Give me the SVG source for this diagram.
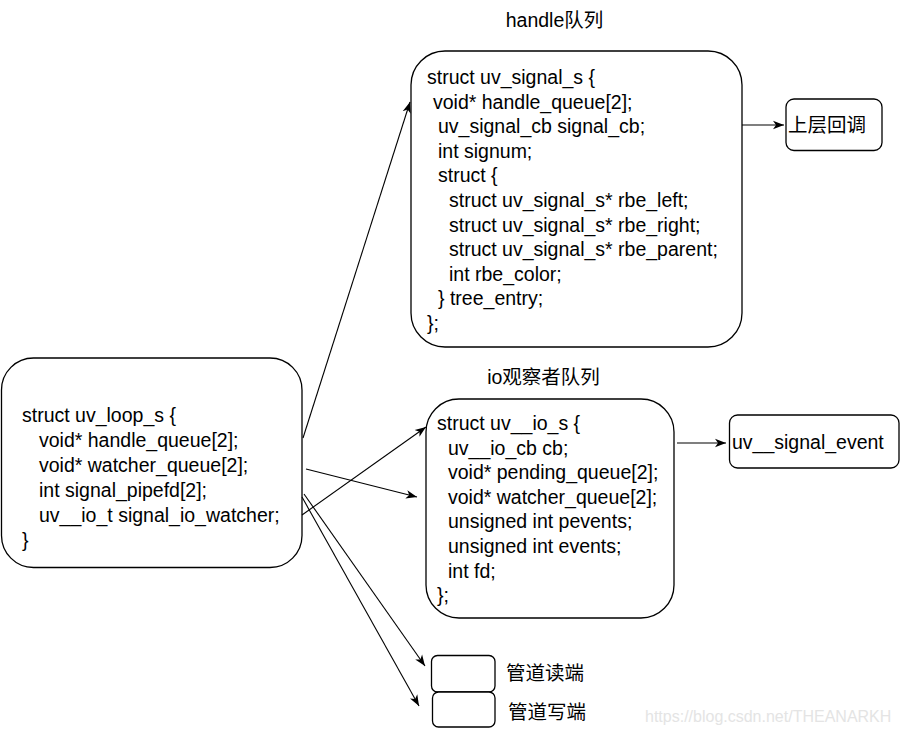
<svg xmlns="http://www.w3.org/2000/svg" width="900" height="734" viewBox="0 0 900 734">
<defs>
<marker id="arr" markerUnits="userSpaceOnUse" markerWidth="12" markerHeight="10" viewBox="0 0 12 10" refX="11" refY="5" orient="auto">
<path d="M0,0.8 L11,5 L0,9.2 L3,5 Z" fill="#000"/>
</marker>
</defs>
<style>
.box{fill:#fff;stroke:#000;stroke-width:1.3}
.t{font-family:"Liberation Sans",Arial,"Noto Sans CJK SC",sans-serif;font-size:19.5px;fill:#000}
.c{stroke:#000;stroke-width:1.1;fill:none;marker-end:url(#arr)}
.wm{font-family:"Liberation Sans",Arial,sans-serif;font-size:16px;fill:#e4e4e4}
</style>
<rect width="900" height="734" fill="#fff"/>
<g id="label-handle"><text class="t" x="554.5" y="27" text-anchor="middle">handle队列</text></g>
<g id="label-io"><text class="t" x="543.5" y="384" text-anchor="middle">io观察者队列</text></g>
<g id="loop">
<rect class="box" x="1.5" y="358" width="300.5" height="209.5" rx="32"/>
<text class="t" x="22" y="422">struct uv_loop_s {</text>
<text class="t" x="39" y="447">void* handle_queue[2];</text>
<text class="t" x="39" y="472">void* watcher_queue[2];</text>
<text class="t" x="39" y="497">int signal_pipefd[2];</text>
<text class="t" x="39" y="522">uv__io_t signal_io_watcher;</text>
<text class="t" x="22" y="547">}</text>
</g>
<g id="signal">
<rect class="box" x="411" y="51" width="331" height="296" rx="34"/>
<text class="t" x="427" y="84">struct uv_signal_s {</text>
<text class="t" x="433" y="108.6">void* handle_queue[2];</text>
<text class="t" x="438" y="133.2">uv_signal_cb signal_cb;</text>
<text class="t" x="438" y="157.8">int signum;</text>
<text class="t" x="438" y="182.4">struct {</text>
<text class="t" x="449" y="207">struct uv_signal_s* rbe_left;</text>
<text class="t" x="449" y="231.6">struct uv_signal_s* rbe_right;</text>
<text class="t" x="449" y="256.2">struct uv_signal_s* rbe_parent;</text>
<text class="t" x="449" y="280.8">int rbe_color;</text>
<text class="t" x="438" y="305.4">} tree_entry;</text>
<text class="t" x="427" y="330">};</text>
</g>
<g id="callback">
<rect class="box" x="786" y="99" width="96" height="51.5" rx="8"/>
<text class="t" x="788" y="132">上层回调</text>
</g>
<g id="io">
<rect class="box" x="426" y="399" width="248" height="219" rx="33"/>
<text class="t" x="437" y="430">struct uv__io_s {</text>
<text class="t" x="448" y="454.6">uv__io_cb cb;</text>
<text class="t" x="448" y="479.2">void* pending_queue[2];</text>
<text class="t" x="448" y="503.8">void* watcher_queue[2];</text>
<text class="t" x="448" y="528.4">unsigned int pevents;</text>
<text class="t" x="448" y="553">unsigned int events;</text>
<text class="t" x="448" y="577.6">int fd;</text>
<text class="t" x="437" y="602.2">};</text>
</g>
<g id="signal-event">
<rect class="box" x="729.5" y="415" width="169.5" height="53" rx="8"/>
<text class="t" x="732" y="449">uv__signal_event</text>
</g>
<g id="pipe-read">
<rect class="box" x="431.5" y="655.5" width="63.5" height="36.5" rx="6"/>
<text class="t" x="506" y="680">管道读端</text>
</g>
<g id="pipe-write">
<rect class="box" x="432.5" y="692" width="62.5" height="35" rx="6"/>
<text class="t" x="508" y="719">管道写端</text>
</g>
<g id="connectors">
<path class="c" d="M303,438 L410,102"/>
<path class="c" d="M306,469 L417,497"/>
<path class="c" d="M302,515 L426,427"/>
<path class="c" d="M304,494 L425,666"/>
<path class="c" d="M302,497 L419,706"/>
<path class="c" d="M742,125 L784,125"/>
<path class="c" d="M677,443 L726,443"/>
</g>
<text class="wm" x="645" y="722">https://blog.csdn.net/THEANARKH</text>
</svg>
